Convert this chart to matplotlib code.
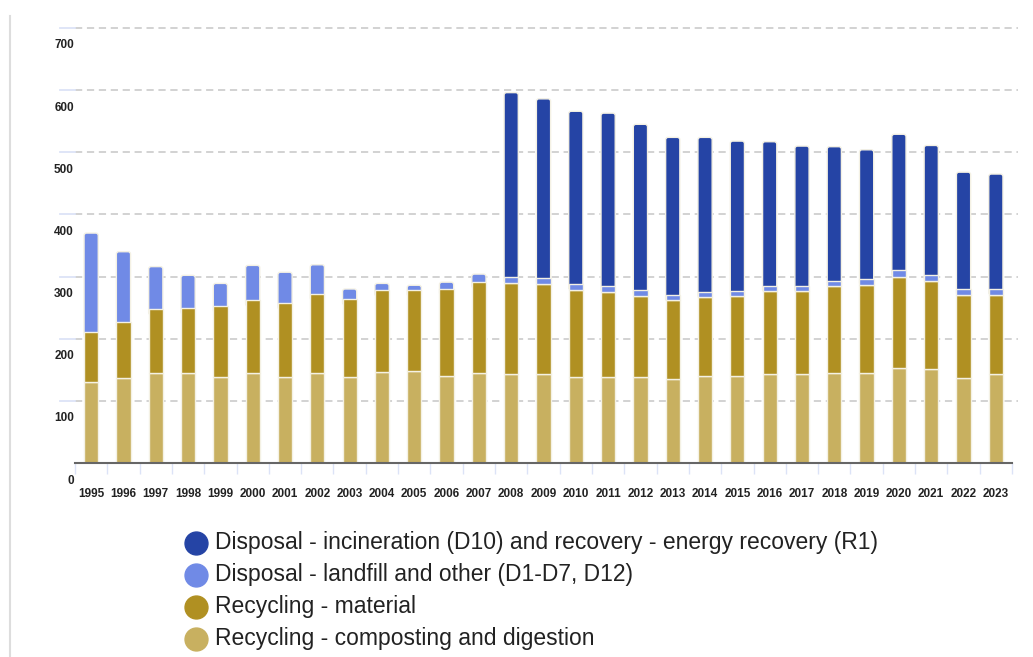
import matplotlib
matplotlib.use("Agg")
import matplotlib.pyplot as plt
from matplotlib.lines import Line2D
from matplotlib.patches import FancyBboxPatch
import matplotlib.transforms as mtransforms
import numpy as np

plt.rcParams['font.family'] = ['Liberation Sans', 'DejaVu Sans']

years = [str(y) for y in range(1995, 2024)]
compost = [130, 137, 145, 145, 138, 145, 138, 145, 138, 146, 148, 140, 145,
           143, 143, 138, 138, 138, 135, 140, 140, 143, 143, 145, 145, 153, 151, 137, 143]
material = [81, 90, 103, 104, 114, 117, 119, 127, 126, 132, 130, 140, 146,
            147, 145, 140, 137, 130, 127, 127, 129, 134, 134, 140, 141, 146, 142, 133, 127]
landfill = [159, 113, 68, 53, 37, 56, 50, 47, 16, 11, 8, 11, 13,
            10, 10, 10, 10, 11, 8, 8, 8, 8, 8, 8, 10, 11, 10, 10, 10]
incineration = [0, 0, 0, 0, 0, 0, 0, 0, 0, 0, 0, 0, 0,
                296, 288, 278, 278, 266, 254, 249, 241, 232, 225, 216, 208, 219, 208, 188, 185]

series_labels = ["Disposal - incineration (D10) and recovery - energy recovery (R1)",
                 "Disposal - landfill and other (D1-D7, D12)",
                 "Recycling - material",
                 "Recycling - composting and digestion"]
series_colors = ["#2544a5", "#708ae6", "#b09022", "#c8b060"]
y_ticks = [0, 100, 200, 300, 400, 500, 600, 700]

W, H = 1033, 657
fig = plt.figure(figsize=(W / 100, H / 100), dpi=100)
ax_w_px, ax_h_px = 1012 - 75, 463 - 28
ax = fig.add_axes([75 / W, 1 - 463 / H, ax_w_px / W, ax_h_px / H])

x = np.arange(len(years))
bw = 0.44
stack = [compost, material, landfill, incineration]
cols = [series_colors[3], series_colors[2], series_colors[1], series_colors[0]]
edge = '#f4f1e4'
n = len(years)
bottom = np.zeros(n)
top_patch = [None] * n
top_color = [None] * n
for vals, c in zip(stack, cols):
    v = np.array(vals, dtype=float)
    bars = ax.bar(x, v, bw, bottom=bottom, color=c, edgecolor=edge, linewidth=1.0, zorder=3)
    for i, p in enumerate(bars.patches):
        if v[i] > 0:
            top_patch[i] = p
            top_color[i] = c
        else:
            p.set_visible(False)
    bottom += v

ax.set_xlim(-0.5, n - 0.5)
ax.set_ylim(0, 700)

# rounded top corners for the top segment of each bar
xu_per_px = n / ax_w_px
yu_per_px = 700 / ax_h_px
r_px = 2.5
ext = 6 * yu_per_px
for p, c in zip(top_patch, top_color):
    p.set_visible(False)
    x0, y0 = p.get_x(), p.get_y()
    w, h = p.get_width(), p.get_height()
    fb = FancyBboxPatch((x0, y0 - ext), w, h + ext,
                        boxstyle=f"round,pad=0,rounding_size={r_px * xu_per_px}",
                        mutation_aspect=yu_per_px / xu_per_px,
                        facecolor=c, edgecolor=edge, linewidth=1.0, zorder=2.9)
    ax.add_patch(fb)

# dashed gridlines extending slightly beyond the axes
for yv in y_ticks[1:]:
    ax.axhline(yv, xmin=0.0, xmax=1.006, color='#cfcfcf', linestyle=(0, (4, 2.6)),
               linewidth=1.3, zorder=1, clip_on=False)
    ax.axhline(yv, xmin=-0.016, xmax=0.0, color='#dce3f7', linewidth=1.3,
               zorder=1, clip_on=False)

for s in ['top', 'right', 'left']:
    ax.spines[s].set_visible(False)
ax.spines['bottom'].set_color('#666666')
ax.spines['bottom'].set_linewidth(1.5)
ax.spines['bottom'].set_zorder(4)

# x ticks at band boundaries, labels at centres
ax.set_xticks(np.arange(-0.5, n, 1.0))
ax.set_xticklabels([])
ax.tick_params(axis='x', which='major', length=8, width=1, color='#dce3f7', direction='out')
ax.set_xticks(x, minor=True)
ax.set_xticklabels(years, minor=True, fontsize=8.5, fontweight='bold', color='#222222')
ax.tick_params(axis='x', which='minor', length=0, pad=18)

# y labels placed below their gridlines
ax.set_yticks([])
trans = mtransforms.offset_copy(ax.get_yaxis_transform(), fig=fig, x=-1, y=-17.5, units='dots')
for yv in y_ticks:
    ax.text(0, yv, str(yv), transform=trans, ha='right', va='center',
            fontsize=8.5, fontweight='bold', color='#222222')

# left border line
fig.add_artist(Line2D([10 / W, 10 / W], [0, 1 - 16 / H], color='#dddddd', linewidth=1.5))

# legend
leg_y = [543, 575, 607, 639]
for lab, c, yy in zip(series_labels, series_colors, leg_y):
    fig.add_artist(Line2D([196 / W], [1 - yy / H], marker='o', markersize=16.5,
                          markerfacecolor=c, markeredgecolor=c, linestyle='none'))
    fig.text(215 / W, 1 - yy / H, lab, ha='left', va='center', fontsize=16.5, color='#222222')

fig.savefig("out.png", dpi=100)
